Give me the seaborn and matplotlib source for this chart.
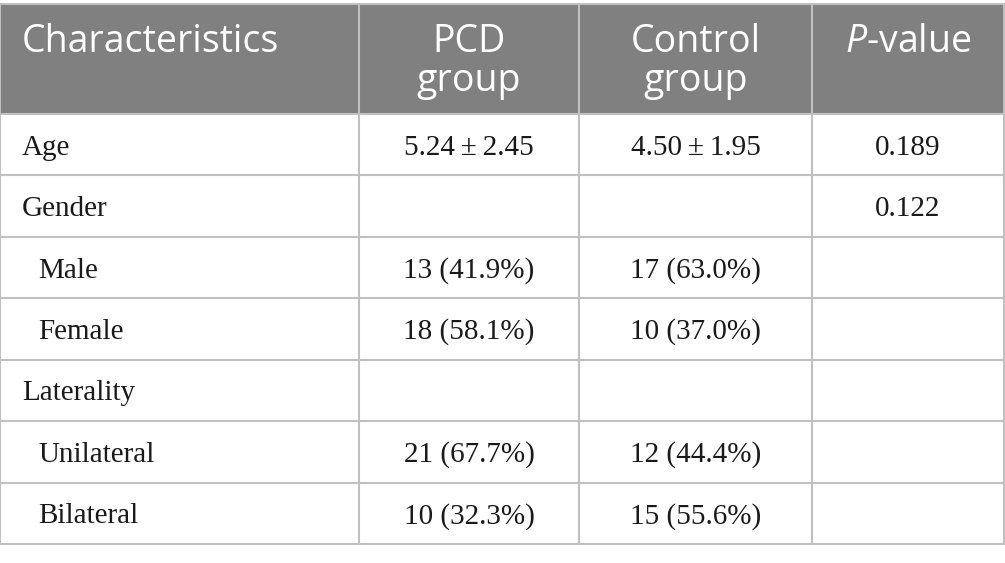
import numpy as np
import pandas as pd
import matplotlib.pyplot as plt
import seaborn as sns

# table content
headers = [["Characteristics"], ["PCD", "group"], ["Control", "group"], [r"$\it{P}$-value"]]
row_labels = ["Age", "Gender", "Male", "Female", "Laterality", "Unilateral", "Bilateral"]
indented = [False, False, True, True, False, True, True]
pcd_group = ["5.24\u2009±\u20092.45", "", "13 (41.9%)", "18 (58.1%)", "", "21 (67.7%)", "10 (32.3%)"]
control_group = ["4.50\u2009±\u20091.95", "", "17 (63.0%)", "10 (37.0%)", "", "12 (44.4%)", "15 (55.6%)"]
p_values = ["0.189", "0.122", "", "", "", "", ""]

df = pd.DataFrame({"label": row_labels, "pcd": pcd_group,
                   "control": control_group, "p": p_values})

sns.set_theme(style="white")
plt.rcParams['mathtext.fontset'] = 'custom'
plt.rcParams['mathtext.it'] = 'Open Sans:italic'
plt.rcParams['mathtext.rm'] = 'Open Sans'

col_edges = [0, 359, 579, 812, 1004]
top, head_bot, bottom = 4, 114, 544
row_edges = np.linspace(head_bot, bottom, len(df) + 1)
line_col = '#c0c0c0'
head_col = '#808080'

fig = plt.figure(figsize=(10.05, 5.63), dpi=100)
ax = fig.add_axes([0, 0, 1, 1])
ax.set_xlim(0, 1005)
ax.set_ylim(563, 0)
ax.axis('off')

# header band
ax.fill_between([col_edges[0], col_edges[-1]], top, head_bot, color=head_col, lw=0)

# grid lines
for y in [top, head_bot]:
    ax.plot([col_edges[0], col_edges[-1]], [y, y], color=line_col, lw=1.5)
for y in row_edges[1:]:
    ax.plot([col_edges[0], col_edges[-1]], [y, y], color=line_col, lw=1.5)
for x in col_edges:
    ax.plot([x, x], [top, bottom], color=line_col, lw=1.5)

# header text
line_y = [42, 81]
for j, lines in enumerate(headers):
    for k, txt in enumerate(lines):
        if j == 0:
            ax.text(22, line_y[k], txt, ha='left', va='center', color='white',
                    fontsize=27, family='Open Sans')
        else:
            xc = (col_edges[j] + col_edges[j + 1]) / 2
            ax.text(xc, line_y[k], txt, ha='center', va='center', color='white',
                    fontsize=27, family='Open Sans')

# body text
serif = ['Liberation Serif', 'DejaVu Serif']
for i, row in df.iterrows():
    yc = (row_edges[i] + row_edges[i + 1]) / 2 + 10
    x0 = 38 if indented[i] else 22
    ax.text(x0, yc, row['label'], ha='left', va='baseline', fontsize=21,
            family=serif, color='#1a1a1a')
    for j, key in enumerate(['pcd', 'control', 'p']):
        xc = (col_edges[j + 1] + col_edges[j + 2]) / 2
        ax.text(xc, yc, row[key], ha='center', va='baseline', fontsize=21,
                family=serif, color='#1a1a1a')

fig.savefig('out.png', dpi=100)
